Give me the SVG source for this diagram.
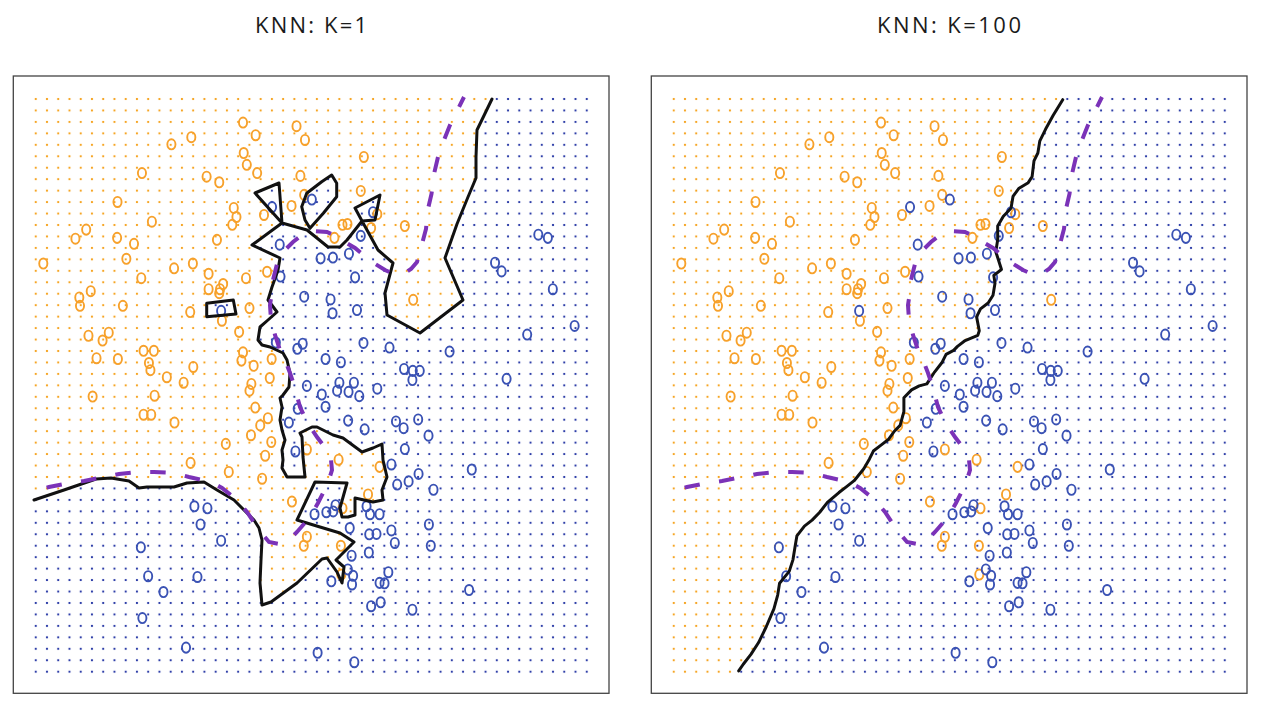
<svg xmlns="http://www.w3.org/2000/svg" xmlns:xlink="http://www.w3.org/1999/xlink" width="1266" height="709" viewBox="0 0 1266 709">
<style>
.box{fill:none;stroke:#444;stroke-width:1.3}
.title{font-family:"Open Sans","Liberation Sans",sans-serif;font-size:22px;fill:#1a1a1a;text-anchor:middle}
.po ellipse{fill:none;stroke:#F7A12B;stroke-width:1.9}
.pb ellipse{fill:none;stroke:#3A52B4;stroke-width:1.9}
.knn{fill:none;stroke:#111;stroke-width:3;stroke-linejoin:round;stroke-linecap:round}
.bayes{fill:none;stroke:#7B32B8;stroke-width:4;stroke-dasharray:15.5 19.5;stroke-dashoffset:4.5}
</style>
<defs>
<pattern id="dO" patternUnits="userSpaceOnUse" x="30.12" y="93.27" width="11.245" height="11.454"><rect x="4.62" y="4.73" width="2" height="2" fill="#F5A524"/></pattern>
<pattern id="dB" patternUnits="userSpaceOnUse" x="30.12" y="93.27" width="11.245" height="11.454"><rect x="4.62" y="4.73" width="2" height="2" fill="#2F3FA8"/></pattern>
<clipPath id="cO1"><path clip-rule="evenodd" d="M20,85 L495,85 L492,99 L477,130 L476,157 L476,178 L468,197 L457,224 L445,258 L463,300 L420,333 L387,315 L385,293 L393,263 L378,250 L362,221 L375,220 L380,195 L355,208 L362,221 L347,240 L340,247 L328,247 L307,230 L282,223 L255,193 L279,183 L282,223 L252,245 L280,258 L278,270 L272,287 L268,300 L277,312 L268,320 L260,327 L258,340 L262,345 L270,347 L283,353 L287,360 L290,373 L289,387 L283,395 L280,398 L282,407 L280,420 L282,430 L285,440 L282,450 L283,460 L282,468 L287,477 L305,477 L303,457 L302,437 L300,433 L312,427 L317,427 L333,435 L343,438 L362,452 L373,448 L382,444 L383,460 L387,477 L382,490 L383,500 L373,502 L355,498 L355,515 L348,517 L342,517 L340,508 L347,483 L315,482 L297,520 L320,527 L340,533 L354,542 L336,560 L344,567 L342,583 L337,572 L327,558 L322,559 L297,583 L271,602 L262,605 L260,583 L261,560 L262,540 L259,528 L254,520 L244,510 L234,500 L217,490 L204,482 L187,483 L174,487 L147,487 L139,488 L129,481 L111,478 L96,479 L64,490 L34,500 L20,504 Z M331.7,175 L336.7,183.3 L336.7,196.7 L323.3,213.3 L310,228.3 L305,220 L301.7,206.7 L306.7,193.3 L321.7,181.7 Z M206.7,303.3 L233.3,300 L236,314 L206.7,316.7 Z"/></clipPath>
<clipPath id="cB1"><path clip-rule="evenodd" d="M0,70 H620 V700 H0 Z M20,85 L495,85 L492,99 L477,130 L476,157 L476,178 L468,197 L457,224 L445,258 L463,300 L420,333 L387,315 L385,293 L393,263 L378,250 L362,221 L375,220 L380,195 L355,208 L362,221 L347,240 L340,247 L328,247 L307,230 L282,223 L255,193 L279,183 L282,223 L252,245 L280,258 L278,270 L272,287 L268,300 L277,312 L268,320 L260,327 L258,340 L262,345 L270,347 L283,353 L287,360 L290,373 L289,387 L283,395 L280,398 L282,407 L280,420 L282,430 L285,440 L282,450 L283,460 L282,468 L287,477 L305,477 L303,457 L302,437 L300,433 L312,427 L317,427 L333,435 L343,438 L362,452 L373,448 L382,444 L383,460 L387,477 L382,490 L383,500 L373,502 L355,498 L355,515 L348,517 L342,517 L340,508 L347,483 L315,482 L297,520 L320,527 L340,533 L354,542 L336,560 L344,567 L342,583 L337,572 L327,558 L322,559 L297,583 L271,602 L262,605 L260,583 L261,560 L262,540 L259,528 L254,520 L244,510 L234,500 L217,490 L204,482 L187,483 L174,487 L147,487 L139,488 L129,481 L111,478 L96,479 L64,490 L34,500 L20,504 Z M331.7,175 L336.7,183.3 L336.7,196.7 L323.3,213.3 L310,228.3 L305,220 L301.7,206.7 L306.7,193.3 L321.7,181.7 Z M206.7,303.3 L233.3,300 L236,314 L206.7,316.7 Z"/></clipPath>
<clipPath id="cO100"><path transform="matrix(0.9946,0,0,0.9948,-0.46,1.4)" d="M20,80 L439,80 L427.5,98.8 L417.8,114.7 L410.2,128.6 L404.4,140.5 L402.5,152.4 L398.6,160.3 L396.7,176.2 L392.8,182.2 L383.2,188.1 L377.5,196 L375.5,208 L367.8,215.9 L362.1,225.8 L362.1,239.7 L360.2,251.6 L364,263.5 L365.9,269.5 L358.2,275.4 L359.4,283.3 L357.4,295.3 L352.5,303.2 L344.8,309.1 L340.9,317.1 L343.6,331 L342.1,335.7 L329.4,340.9 L321.7,346.8 L317.8,350.8 L310.2,354.8 L306.3,362.7 L298.6,372.6 L290.9,384.5 L283.2,386.5 L275.5,390.5 L267.8,398.4 L267.8,412.3 L264,426.2 L258.2,432.1 L252.5,440.1 L244.8,446 L237.1,452 L233.2,459.9 L227.5,469.8 L217.8,481.8 L210.2,487.7 L202.5,493.7 L190.9,503.6 L183.2,513.5 L175.5,521.4 L167.8,527.4 L160.2,537.3 L158.2,549.2 L156.3,561.1 L152.5,573 L142.8,584.9 L140.9,596.8 L137.1,610.7 L129.4,628.6 L121.7,644.5 L114,656.4 L106.3,666.3 L101.7,673 L92.8,686 L20,686 Z"/></clipPath>
<clipPath id="cB100"><path clip-rule="evenodd" transform="matrix(0.9946,0,0,0.9948,-0.46,1.4)" d="M0,70 H620 V700 H0 Z M20,80 L439,80 L427.5,98.8 L417.8,114.7 L410.2,128.6 L404.4,140.5 L402.5,152.4 L398.6,160.3 L396.7,176.2 L392.8,182.2 L383.2,188.1 L377.5,196 L375.5,208 L367.8,215.9 L362.1,225.8 L362.1,239.7 L360.2,251.6 L364,263.5 L365.9,269.5 L358.2,275.4 L359.4,283.3 L357.4,295.3 L352.5,303.2 L344.8,309.1 L340.9,317.1 L343.6,331 L342.1,335.7 L329.4,340.9 L321.7,346.8 L317.8,350.8 L310.2,354.8 L306.3,362.7 L298.6,372.6 L290.9,384.5 L283.2,386.5 L275.5,390.5 L267.8,398.4 L267.8,412.3 L264,426.2 L258.2,432.1 L252.5,440.1 L244.8,446 L237.1,452 L233.2,459.9 L227.5,469.8 L217.8,481.8 L210.2,487.7 L202.5,493.7 L190.9,503.6 L183.2,513.5 L175.5,521.4 L167.8,527.4 L160.2,537.3 L158.2,549.2 L156.3,561.1 L152.5,573 L142.8,584.9 L140.9,596.8 L137.1,610.7 L129.4,628.6 L121.7,644.5 L114,656.4 L106.3,666.3 L101.7,673 L92.8,686 L20,686 Z"/></clipPath>
<path id="bayesPath" class="bayes" d="M464,97 L459,107 L450,125 L444,140 L438,157 L434,174 L431.5,194 L428,209 L426,229 L422,244 L417,262 L411,269 L405,273 L395,274.5 L385,270 L372,262 L355,248 L345,242 L336,236 L327,232 L312,231 L302,235 L293,242 L283,252 L277,264 L273,280 L272,292 L270,305 L271,320 L275,335 L280,350 L285,360 L290,373 L295,388 L300,407 L307,422 L317,437 L327,450 L331,460 L332,470 L328,483 L323,493 L318,503 L310,517 L297,532 L288,541 L279,544 L269,542 L259,530 L247,512 L237,500 L222,488 L211,482 L189,477 L174,473 L154,472 L139,472 L119,474 L104,477 L84,481 L69,483 L49,487 L34,491"/>
<g id="pts" transform="matrix(0.9946,0,0,0.9948,-0.46,1.4)">
<g class="po">
<ellipse cx="244.8" cy="121.8" rx="4.1" ry="5.1"/><ellipse cx="298.6" cy="125.4" rx="4.1" ry="5.1"/><ellipse cx="257.5" cy="134.5" rx="4.1" ry="5.1"/><ellipse cx="192.8" cy="136.5" rx="4.1" ry="5.1"/><ellipse cx="172.8" cy="143.7" rx="4.1" ry="5.1"/><ellipse cx="307.1" cy="139.3" rx="4.1" ry="5.1"/><ellipse cx="245.5" cy="152.4" rx="4.1" ry="5.1"/><ellipse cx="248.6" cy="164.3" rx="4.1" ry="5.1"/><ellipse cx="366.3" cy="156.4" rx="4.1" ry="5.1"/><ellipse cx="259" cy="172.6" rx="4.1" ry="5.1"/>
<ellipse cx="143.2" cy="172.6" rx="4.1" ry="5.1"/><ellipse cx="208.2" cy="176.2" rx="4.1" ry="5.1"/><ellipse cx="220.9" cy="181.8" rx="4.1" ry="5.1"/><ellipse cx="302.5" cy="175.4" rx="4.1" ry="5.1"/><ellipse cx="363.2" cy="190.5" rx="4.1" ry="5.1"/><ellipse cx="306.3" cy="194.5" rx="4.1" ry="5.1"/><ellipse cx="118.6" cy="201.6" rx="4.1" ry="5.1"/><ellipse cx="235.5" cy="207.6" rx="4.1" ry="5.1"/><ellipse cx="293.6" cy="205.6" rx="4.1" ry="5.1"/><ellipse cx="265.9" cy="214.7" rx="4.1" ry="5.1"/>
<ellipse cx="238.2" cy="216.7" rx="4.1" ry="5.1"/><ellipse cx="234" cy="224.6" rx="4.1" ry="5.1"/><ellipse cx="153.2" cy="221.4" rx="4.1" ry="5.1"/><ellipse cx="344.8" cy="224.6" rx="4.1" ry="5.1"/><ellipse cx="349.8" cy="223.8" rx="4.1" ry="5.1"/><ellipse cx="379.8" cy="213.9" rx="4.1" ry="5.1"/><ellipse cx="373.6" cy="227.8" rx="4.1" ry="5.1"/><ellipse cx="407.5" cy="225.8" rx="4.1" ry="5.1"/><ellipse cx="87.1" cy="229.4" rx="4.1" ry="5.1"/><ellipse cx="76.3" cy="238.5" rx="4.1" ry="5.1"/>
<ellipse cx="118.2" cy="237.7" rx="4.1" ry="5.1"/><ellipse cx="135.2" cy="243.7" rx="4.1" ry="5.1"/><ellipse cx="218.6" cy="239.7" rx="4.1" ry="5.1"/><ellipse cx="336.7" cy="237.7" rx="4.1" ry="5.1"/><ellipse cx="127.5" cy="258.7" rx="4.1" ry="5.1"/><ellipse cx="44" cy="263.5" rx="4.1" ry="5.1"/><ellipse cx="194.4" cy="263.5" rx="4.1" ry="5.1"/><ellipse cx="175.5" cy="268.3" rx="4.1" ry="5.1"/><ellipse cx="142.5" cy="278.2" rx="4.1" ry="5.1"/><ellipse cx="210.2" cy="273.8" rx="4.1" ry="5.1"/>
<ellipse cx="224.8" cy="284.1" rx="4.1" ry="5.1"/><ellipse cx="247.8" cy="278.2" rx="4.1" ry="5.1"/><ellipse cx="269" cy="271.8" rx="4.1" ry="5.1"/><ellipse cx="210.2" cy="289.3" rx="4.1" ry="5.1"/><ellipse cx="221.7" cy="289.3" rx="4.1" ry="5.1"/><ellipse cx="220.9" cy="293.3" rx="4.1" ry="5.1"/><ellipse cx="91.7" cy="291.3" rx="4.1" ry="5.1"/><ellipse cx="80.2" cy="297.6" rx="4.1" ry="5.1"/><ellipse cx="80.9" cy="306" rx="4.1" ry="5.1"/><ellipse cx="124" cy="306" rx="4.1" ry="5.1"/>
<ellipse cx="191.7" cy="312.3" rx="4.1" ry="5.1"/><ellipse cx="251.3" cy="308.3" rx="4.1" ry="5.1"/><ellipse cx="223.6" cy="321" rx="4.1" ry="5.1"/><ellipse cx="240.9" cy="332.2" rx="4.1" ry="5.1"/><ellipse cx="415.9" cy="300" rx="4.1" ry="5.1"/><ellipse cx="89.4" cy="336.1" rx="4.1" ry="5.1"/><ellipse cx="109.8" cy="333" rx="4.1" ry="5.1"/><ellipse cx="103.6" cy="340.9" rx="4.1" ry="5.1"/><ellipse cx="144.8" cy="351.2" rx="4.1" ry="5.1"/><ellipse cx="155.2" cy="351.2" rx="4.1" ry="5.1"/>
<ellipse cx="97.5" cy="358.7" rx="4.1" ry="5.1"/><ellipse cx="119" cy="359.5" rx="4.1" ry="5.1"/><ellipse cx="150.2" cy="363.5" rx="4.1" ry="5.1"/><ellipse cx="151.7" cy="370.7" rx="4.1" ry="5.1"/><ellipse cx="244.8" cy="352.8" rx="4.1" ry="5.1"/><ellipse cx="243.2" cy="361.1" rx="4.1" ry="5.1"/><ellipse cx="255.5" cy="366.3" rx="4.1" ry="5.1"/><ellipse cx="273.6" cy="359.5" rx="4.1" ry="5.1"/><ellipse cx="194.8" cy="367.5" rx="4.1" ry="5.1"/><ellipse cx="168.2" cy="377.8" rx="4.1" ry="5.1"/>
<ellipse cx="185.1" cy="383.3" rx="4.1" ry="5.1"/><ellipse cx="271.7" cy="378.6" rx="4.1" ry="5.1"/><ellipse cx="253.2" cy="384.5" rx="4.1" ry="5.1"/><ellipse cx="251.3" cy="391.3" rx="4.1" ry="5.1"/><ellipse cx="93.6" cy="397.2" rx="4.1" ry="5.1"/><ellipse cx="155.9" cy="396.4" rx="4.1" ry="5.1"/><ellipse cx="144.8" cy="415.5" rx="4.1" ry="5.1"/><ellipse cx="152.5" cy="415.5" rx="4.1" ry="5.1"/><ellipse cx="175.9" cy="423.4" rx="4.1" ry="5.1"/><ellipse cx="257.1" cy="408.3" rx="4.1" ry="5.1"/>
<ellipse cx="269.8" cy="419" rx="4.1" ry="5.1"/><ellipse cx="262.1" cy="426.2" rx="4.1" ry="5.1"/><ellipse cx="252.8" cy="436.1" rx="4.1" ry="5.1"/><ellipse cx="227.5" cy="444.8" rx="4.1" ry="5.1"/><ellipse cx="273.2" cy="442.9" rx="4.1" ry="5.1"/><ellipse cx="267.1" cy="456.7" rx="4.1" ry="5.1"/><ellipse cx="309" cy="450.4" rx="4.1" ry="5.1"/><ellipse cx="340.9" cy="460.7" rx="4.1" ry="5.1"/><ellipse cx="192.1" cy="463.9" rx="4.1" ry="5.1"/><ellipse cx="230.5" cy="473" rx="4.1" ry="5.1"/>
<ellipse cx="264" cy="479.8" rx="4.1" ry="5.1"/><ellipse cx="382.1" cy="467.9" rx="4.1" ry="5.1"/><ellipse cx="370.5" cy="495.6" rx="4.1" ry="5.1"/><ellipse cx="294" cy="502.8" rx="4.1" ry="5.1"/><ellipse cx="344.8" cy="509.5" rx="4.1" ry="5.1"/><ellipse cx="309" cy="538.1" rx="4.1" ry="5.1"/><ellipse cx="305.9" cy="547.2" rx="4.1" ry="5.1"/><ellipse cx="343.2" cy="547.2" rx="4.1" ry="5.1"/><ellipse cx="343.6" cy="576.2" rx="4.1" ry="5.1"/>
</g>
<g class="pb">
<ellipse cx="314" cy="199.2" rx="4.1" ry="5.1"/><ellipse cx="274" cy="206.8" rx="4.1" ry="5.1"/><ellipse cx="375.5" cy="211.9" rx="4.1" ry="5.1"/><ellipse cx="363.2" cy="235.7" rx="4.1" ry="5.1"/><ellipse cx="281.7" cy="244.5" rx="4.1" ry="5.1"/><ellipse cx="322.8" cy="258.3" rx="4.1" ry="5.1"/><ellipse cx="335.2" cy="257.5" rx="4.1" ry="5.1"/><ellipse cx="351.3" cy="253.6" rx="4.1" ry="5.1"/><ellipse cx="282.5" cy="276.6" rx="4.1" ry="5.1"/><ellipse cx="357.5" cy="277.4" rx="4.1" ry="5.1"/>
<ellipse cx="306.3" cy="296.8" rx="4.1" ry="5.1"/><ellipse cx="332.8" cy="299.6" rx="4.1" ry="5.1"/><ellipse cx="334.8" cy="313.5" rx="4.1" ry="5.1"/><ellipse cx="359.4" cy="310.3" rx="4.1" ry="5.1"/><ellipse cx="222.8" cy="311.1" rx="4.1" ry="5.1"/><ellipse cx="541.7" cy="234.5" rx="4.1" ry="5.1"/><ellipse cx="551.3" cy="237.7" rx="4.1" ry="5.1"/><ellipse cx="498.2" cy="262.7" rx="4.1" ry="5.1"/><ellipse cx="504.8" cy="271.4" rx="4.1" ry="5.1"/><ellipse cx="556.3" cy="289.3" rx="4.1" ry="5.1"/>
<ellipse cx="578.2" cy="326.2" rx="4.1" ry="5.1"/><ellipse cx="530.5" cy="334.9" rx="4.1" ry="5.1"/><ellipse cx="452.5" cy="352" rx="4.1" ry="5.1"/><ellipse cx="509.8" cy="379.4" rx="4.1" ry="5.1"/><ellipse cx="277.8" cy="342.9" rx="4.1" ry="5.1"/><ellipse cx="304.8" cy="344.1" rx="4.1" ry="5.1"/><ellipse cx="299.4" cy="349.2" rx="4.1" ry="5.1"/><ellipse cx="365.9" cy="343.3" rx="4.1" ry="5.1"/><ellipse cx="392.1" cy="348" rx="4.1" ry="5.1"/><ellipse cx="327.8" cy="359.5" rx="4.1" ry="5.1"/>
<ellipse cx="343.2" cy="362.7" rx="4.1" ry="5.1"/><ellipse cx="406.7" cy="369.5" rx="4.1" ry="5.1"/><ellipse cx="415.5" cy="371.4" rx="4.1" ry="5.1"/><ellipse cx="422.5" cy="371.4" rx="4.1" ry="5.1"/><ellipse cx="415.1" cy="380.6" rx="4.1" ry="5.1"/><ellipse cx="309" cy="386.5" rx="4.1" ry="5.1"/><ellipse cx="341.7" cy="383.3" rx="4.1" ry="5.1"/><ellipse cx="356.3" cy="383.3" rx="4.1" ry="5.1"/><ellipse cx="339.4" cy="391.3" rx="4.1" ry="5.1"/><ellipse cx="350.9" cy="392.5" rx="4.1" ry="5.1"/>
<ellipse cx="361.7" cy="396.8" rx="4.1" ry="5.1"/><ellipse cx="379.8" cy="389.3" rx="4.1" ry="5.1"/><ellipse cx="324" cy="395.2" rx="4.1" ry="5.1"/><ellipse cx="327.8" cy="407.5" rx="4.1" ry="5.1"/><ellipse cx="299.8" cy="409.5" rx="4.1" ry="5.1"/><ellipse cx="290.9" cy="423.4" rx="4.1" ry="5.1"/><ellipse cx="350.5" cy="421.4" rx="4.1" ry="5.1"/><ellipse cx="367.1" cy="430.2" rx="4.1" ry="5.1"/><ellipse cx="398.6" cy="422.2" rx="4.1" ry="5.1"/><ellipse cx="406.3" cy="429" rx="4.1" ry="5.1"/>
<ellipse cx="420.9" cy="420.2" rx="4.1" ry="5.1"/><ellipse cx="431.3" cy="436.5" rx="4.1" ry="5.1"/><ellipse cx="407.5" cy="450" rx="4.1" ry="5.1"/><ellipse cx="297.5" cy="452.4" rx="4.1" ry="5.1"/><ellipse cx="394" cy="465.5" rx="4.1" ry="5.1"/><ellipse cx="421.3" cy="475" rx="4.1" ry="5.1"/><ellipse cx="411.3" cy="482.5" rx="4.1" ry="5.1"/><ellipse cx="399.8" cy="485.7" rx="4.1" ry="5.1"/><ellipse cx="436.3" cy="490.9" rx="4.1" ry="5.1"/><ellipse cx="474.8" cy="470.6" rx="4.1" ry="5.1"/>
<ellipse cx="195.9" cy="507.5" rx="4.1" ry="5.1"/><ellipse cx="209" cy="509.5" rx="4.1" ry="5.1"/><ellipse cx="202.1" cy="525.8" rx="4.1" ry="5.1"/><ellipse cx="222.8" cy="542.1" rx="4.1" ry="5.1"/><ellipse cx="142.1" cy="548.8" rx="4.1" ry="5.1"/><ellipse cx="337.8" cy="506.4" rx="4.1" ry="5.1"/><ellipse cx="335.5" cy="512.7" rx="4.1" ry="5.1"/><ellipse cx="328.6" cy="513.5" rx="4.1" ry="5.1"/><ellipse cx="316.7" cy="515.5" rx="4.1" ry="5.1"/><ellipse cx="369" cy="507.5" rx="4.1" ry="5.1"/>
<ellipse cx="372.5" cy="515.5" rx="4.1" ry="5.1"/><ellipse cx="382.1" cy="515.5" rx="4.1" ry="5.1"/><ellipse cx="352.1" cy="529.4" rx="4.1" ry="5.1"/><ellipse cx="371.7" cy="535.7" rx="4.1" ry="5.1"/><ellipse cx="379" cy="535.3" rx="4.1" ry="5.1"/><ellipse cx="394" cy="531.8" rx="4.1" ry="5.1"/><ellipse cx="431.7" cy="525.8" rx="4.1" ry="5.1"/><ellipse cx="433.6" cy="547.2" rx="4.1" ry="5.1"/><ellipse cx="397.4" cy="544.4" rx="4.1" ry="5.1"/><ellipse cx="354" cy="557.2" rx="4.1" ry="5.1"/>
<ellipse cx="371.3" cy="554" rx="4.1" ry="5.1"/><ellipse cx="350.2" cy="571" rx="4.1" ry="5.1"/><ellipse cx="355.5" cy="577.4" rx="4.1" ry="5.1"/><ellipse cx="333.6" cy="582.9" rx="4.1" ry="5.1"/><ellipse cx="354.4" cy="586.1" rx="4.1" ry="5.1"/><ellipse cx="382.1" cy="584.5" rx="4.1" ry="5.1"/><ellipse cx="387.1" cy="584.9" rx="4.1" ry="5.1"/><ellipse cx="390.9" cy="573.8" rx="4.1" ry="5.1"/><ellipse cx="472.1" cy="591.7" rx="4.1" ry="5.1"/><ellipse cx="149.4" cy="577.8" rx="4.1" ry="5.1"/>
<ellipse cx="199" cy="578.6" rx="4.1" ry="5.1"/><ellipse cx="164.8" cy="593.7" rx="4.1" ry="5.1"/><ellipse cx="143.6" cy="619.9" rx="4.1" ry="5.1"/><ellipse cx="373.6" cy="608" rx="4.1" ry="5.1"/><ellipse cx="383.2" cy="604" rx="4.1" ry="5.1"/><ellipse cx="415.1" cy="611.5" rx="4.1" ry="5.1"/><ellipse cx="187.5" cy="649.6" rx="4.1" ry="5.1"/><ellipse cx="319.8" cy="654.8" rx="4.1" ry="5.1"/><ellipse cx="356.7" cy="664.3" rx="4.1" ry="5.1"/>
</g>
</g>
</defs>
<rect width="1266" height="709" fill="#fff"/>
<g id="panel-k1">
<rect x="30" y="93" width="563" height="584" fill="url(#dB)" clip-path="url(#cB1)"/>
<rect x="30" y="93" width="563" height="584" fill="url(#dO)" clip-path="url(#cO1)"/>
<use xlink:href="#pts" href="#pts"/>
<path id="knn-k1" class="knn" d="M492,99 L477,130 L476,157 L476,178 L468,197 L457,224 L445,258 L463,300 L420,333 L387,315 L385,293 L393,263 L378,250 L362,221 L375,220 L380,195 L355,208 L362,221 L347,240 L340,247 L328,247 L307,230 L282,223 L255,193 L279,183 L282,223 L252,245 L280,258 L278,270 L272,287 L268,300 L277,312 L268,320 L260,327 L258,340 L262,345 L270,347 L283,353 L287,360 L290,373 L289,387 L283,395 L280,398 L282,407 L280,420 L282,430 L285,440 L282,450 L283,460 L282,468 L287,477 L305,477 L303,457 L302,437 L300,433 L312,427 L317,427 L333,435 L343,438 L362,452 L373,448 L382,444 L383,460 L387,477 L382,490 L383,500 L373,502 L355,498 L355,515 L348,517 L342,517 L340,508 L347,483 L315,482 L297,520 L320,527 L340,533 L354,542 L336,560 L344,567 L342,583 L337,572 L327,558 L322,559 L297,583 L271,602 L262,605 L260,583 L261,560 L262,540 L259,528 L254,520 L244,510 L234,500 L217,490 L204,482 L187,483 L174,487 L147,487 L139,488 L129,481 L111,478 L96,479 L64,490 L34,500 M331.7,175 L336.7,183.3 L336.7,196.7 L323.3,213.3 L310,228.3 L305,220 L301.7,206.7 L306.7,193.3 L321.7,181.7 Z M206.7,303.3 L233.3,300 L236,314 L206.7,316.7 Z"/>
<use xlink:href="#bayesPath" href="#bayesPath"/>
<rect class="box" x="13.3" y="76" width="595.7" height="617.3"/>
<text class="title" x="311" y="33" textLength="112" lengthAdjust="spacing">KNN: K=1</text>
</g>
<g id="panel-k100" transform="translate(638,0)">
<rect x="30" y="93" width="563" height="584" fill="url(#dB)" clip-path="url(#cB100)"/>
<rect x="30" y="93" width="563" height="584" fill="url(#dO)" clip-path="url(#cO100)"/>
<use xlink:href="#pts" href="#pts"/>
<path id="knn-k100" class="knn" transform="matrix(0.9946,0,0,0.9948,-0.46,1.4)" d="M427.5,98.8 L417.8,114.7 L410.2,128.6 L404.4,140.5 L402.5,152.4 L398.6,160.3 L396.7,176.2 L392.8,182.2 L383.2,188.1 L377.5,196 L375.5,208 L367.8,215.9 L362.1,225.8 L362.1,239.7 L360.2,251.6 L364,263.5 L365.9,269.5 L358.2,275.4 L359.4,283.3 L357.4,295.3 L352.5,303.2 L344.8,309.1 L340.9,317.1 L343.6,331 L342.1,335.7 L329.4,340.9 L321.7,346.8 L317.8,350.8 L310.2,354.8 L306.3,362.7 L298.6,372.6 L290.9,384.5 L283.2,386.5 L275.5,390.5 L267.8,398.4 L267.8,412.3 L264,426.2 L258.2,432.1 L252.5,440.1 L244.8,446 L237.1,452 L233.2,459.9 L227.5,469.8 L217.8,481.8 L210.2,487.7 L202.5,493.7 L190.9,503.6 L183.2,513.5 L175.5,521.4 L167.8,527.4 L160.2,537.3 L158.2,549.2 L156.3,561.1 L152.5,573 L142.8,584.9 L140.9,596.8 L137.1,610.7 L129.4,628.6 L121.7,644.5 L114,656.4 L106.3,666.3 L101.7,673"/>
<use xlink:href="#bayesPath" href="#bayesPath"/>
<rect class="box" x="13.3" y="76" width="595.7" height="617.3"/>
<text class="title" x="311" y="33" textLength="144" lengthAdjust="spacing">KNN: K=100</text>
</g>
</svg>
